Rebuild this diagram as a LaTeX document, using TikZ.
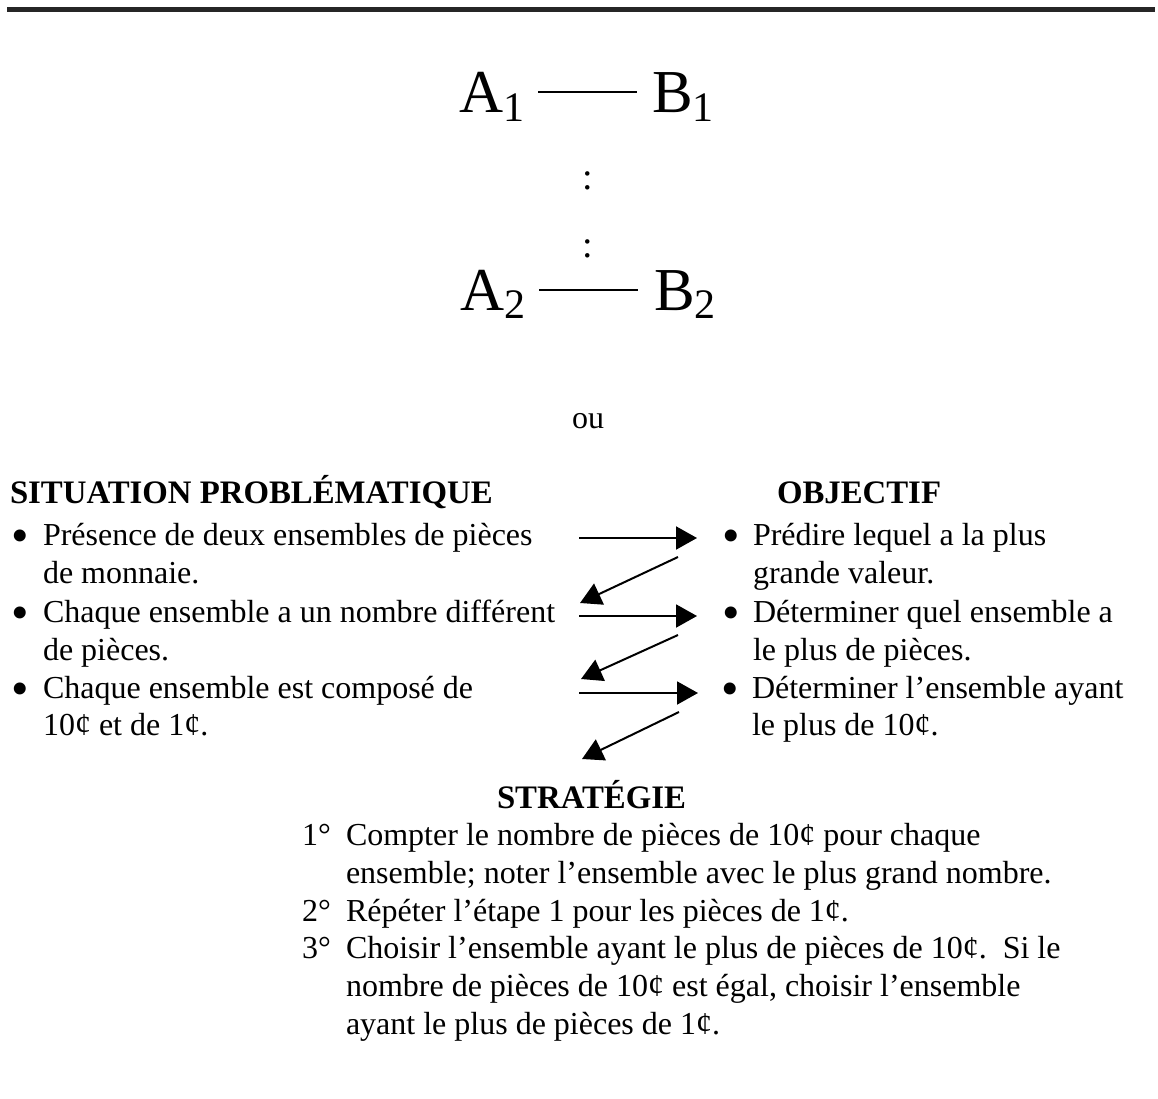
\documentclass[tikz,border=0pt]{standalone}
\usepackage{fontspec}
\setmainfont{Liberation Serif}
\usetikzlibrary{arrows.meta,calc}
\newcommand\bodyfont{\fontsize{32}{38.5}\selectfont}
\newcommand\headfont{\fontsize{32.8}{38.5}\selectfont\bfseries}
\newcommand\bigfont{\fontsize{61}{70}\selectfont}
\newcommand\subfont{\fontsize{42}{50}\selectfont}
\newcommand\bulfont{\fontsize{50}{50}\selectfont}
\newcommand\colfont{\fontsize{38}{40}\selectfont}
\begin{document}
\begin{tikzpicture}[x=1pt,y=-1pt,
  txt/.style={anchor=base west,inner sep=0pt,outer sep=0pt,font=\bodyfont},
  head/.style={txt,font=\headfont},
  bul/.style={anchor=base,inner sep=0pt,outer sep=0pt,font=\bulfont},
  big/.style={anchor=base west,inner sep=0pt,outer sep=0pt,font=\bigfont},
  link/.style={line width=2pt},
  flow/.style={line width=2pt,-{Triangle[length=21pt,width=23pt]}}]
\useasboundingbox (0,0) rectangle (1158,1099);
\fill[white] (0,0) rectangle (1158,1099);
% top rule
\draw[line width=4.5pt,black!85] (7,9.5) -- (1155,9.5);
% A/B scheme
\node[big] (A1) at (459,113) {A\raisebox{-9pt}{\subfont 1}};
\node[big] (B1) at (652,113) {B\raisebox{-9pt}{\subfont 1}};
\node[big] (A2) at (460,310) {A\raisebox{-8pt}{\subfont 2}};
\node[big] (B2) at (654,310) {B\raisebox{-8pt}{\subfont 2}};
\draw[link] ($(A1.base east)+(14,-21)$) -- ($(B1.base west)+(-15,-21)$);
\draw[link] ($(A2.base east)+(14,-20)$) -- ($(B2.base west)+(-16,-20)$);
\node[anchor=base,inner sep=0pt,font=\colfont] (d1) at (588,190) {:};
\node[anchor=base,inner sep=0pt,font=\colfont] (d2) at (588,258) {:};
\node[txt,anchor=base] (ou) at (588,428) {ou};
% headings
\node[head] (sit) at (10,503) {SITUATION PROBLÉMATIQUE};
\node[head] (obj) at (777,503) {OBJECTIF};
\node[head] (str) at (497,808) {STRATÉGIE};
% left column
\node[bul] (lb1) at (20,552) {•};
\node[txt] (l1a) at (43,545) {Présence de deux ensembles de pièces};
\node[txt] (l1b) at (43,583) {de monnaie.};
\node[bul] (lb2) at (20,629) {•};
\node[txt] (l2a) at (43,622) {Chaque ensemble a un nombre différent};
\node[txt] (l2b) at (43,660) {de pièces.};
\node[bul] (lb3) at (20,705) {•};
\node[txt] (l3a) at (43,698) {Chaque ensemble est composé de};
\node[txt] (l3b) at (43,735) {10¢ et de 1¢.};
% right column
\node[bul] (rb1) at (731,552) {•};
\node[txt] (r1a) at (753,545) {Prédire lequel a la plus};
\node[txt] (r1b) at (753,583) {grande valeur.};
\node[bul] (rb2) at (731,629) {•};
\node[txt] (r2a) at (753,622) {Déterminer quel ensemble a};
\node[txt] (r2b) at (753,660) {le plus de pièces.};
\node[bul] (rb3) at (730,705) {•};
\node[txt] (r3a) at (752,698) {Déterminer l’ensemble ayant};
\node[txt] (r3b) at (752,735) {le plus de 10¢.};
% strategy
\node[txt] (n1) at (302,845) {1°};
\node[txt] (s1a) at (346,845) {Compter le nombre de pièces de 10¢ pour chaque};
\node[txt] (s1b) at (346,883) {ensemble; noter l’ensemble avec le plus grand nombre.};
\node[txt] (n2) at (302,921) {2°};
\node[txt] (s2a) at (346,921) {Répéter l’étape 1 pour les pièces de 1¢.};
\node[txt] (n3) at (302,958) {3°};
\node[txt] (s3a) at (346,958) {Choisir l’ensemble ayant le plus de pièces de 10¢.\ \ Si le};
\node[txt] (s3b) at (346,996) {nombre de pièces de 10¢ est égal, choisir l’ensemble};
\node[txt] (s3c) at (346,1034) {ayant le plus de pièces de 1¢.};
% arrows
\coordinate (h1s) at (579,538); \coordinate (h1e) at (697,538);
\coordinate (g1s) at (678,557); \coordinate (g1e) at (580,603);
\coordinate (h2s) at (579,616); \coordinate (h2e) at (697,616);
\coordinate (g2s) at (678,635); \coordinate (g2e) at (581,679);
\coordinate (h3s) at (579,693); \coordinate (h3e) at (698,693);
\coordinate (g3s) at (679,712); \coordinate (g3e) at (582,759);
\draw[flow] (h1s) -- (h1e);
\draw[flow] (g1s) -- (g1e);
\draw[flow] (h2s) -- (h2e);
\draw[flow] (g2s) -- (g2e);
\draw[flow] (h3s) -- (h3e);
\draw[flow] (g3s) -- (g3e);
\end{tikzpicture}
\end{document}
